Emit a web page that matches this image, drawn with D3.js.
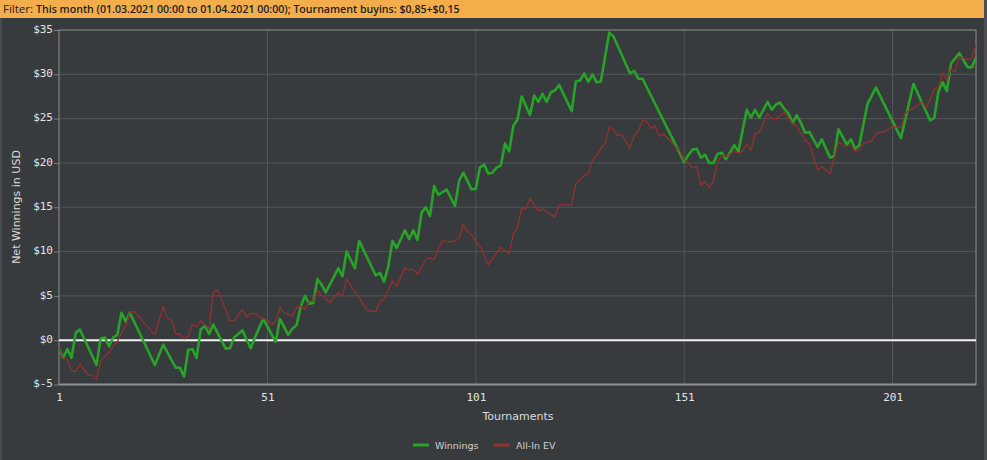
<!DOCTYPE html>
<html lang="en">
<head>
    <meta charset="UTF-8">
    <title>Net Winnings</title>

    <script src="https://d3js.org/d3.v7.min.js"></script>

    <style>
        body {
            margin: 0;
            background: #383b3e;
        }

        svg {
            display: block;
        }
    </style>

    <script>

        // tournaments where the line changes direction
        const winTournaments = [1, 2, 3, 4, 5, 6, 10, 11, 12, 13, 14, 15, 16, 17, 18, 24, 26, 29, 30, 31,
            32, 33, 34, 35, 36, 37, 38, 41, 42, 43, 45, 47, 48, 50, 53, 54, 56, 57, 58, 59,
            60, 61, 62, 63, 64, 65, 68, 69, 70, 72, 73, 77, 78, 79, 80, 81, 82, 84, 85, 86,
            87, 88, 89, 90, 91, 92, 94, 96, 97, 98, 100, 101, 102, 103, 104, 105, 106, 107, 108, 109,
            110, 111, 112, 114, 115, 116, 117, 118, 119, 120, 121, 124, 125, 126, 127, 128, 129, 130, 131, 133,
            134, 138, 139, 140, 141, 151, 152, 153, 154, 155, 156, 157, 158, 159, 160, 161, 163, 164, 166, 167,
            168, 169, 171, 172, 173, 174, 175, 176, 177, 178, 179, 180, 181, 183, 184, 186, 187, 188, 190, 191,
            192, 193, 195, 197, 203, 206, 210, 211, 212, 213, 214, 215, 217, 219, 220, 221];
        const winnings = [-1.0, -2.0, -1.0, -2.0, 0.8, 1.2, -2.8, 0.2, 0.3, -0.7, 0.3, 0.6, 3.1, 2.1, 3.1, -2.8, -0.5, -3.1, -3.1, -4.1,
            -1.1, -1.0, -2.0, 1.2, 1.6, 0.7, 1.75, -0.95, -0.9, 0.3, 1.1, -0.9, 0.3, 2.4, -0.2, 2.4, 0.6, 1.3, 1.7, 3.8,
            5.0, 4.1, 4.2, 6.9, 6.25, 5.4, 8.1, 7.2, 10.0, 8.1, 11.2, 7.3, 7.6, 6.6, 8.3, 11.2, 10.4, 12.4, 11.4, 12.4,
            11.3, 14.4, 15.0, 14.0, 17.4, 16.4, 17.0, 15.15, 18.0, 18.9, 17.0, 17.1, 19.5, 19.8, 18.8, 18.9, 19.5, 19.7, 22.2, 21.3,
            24.2, 24.9, 27.5, 25.4, 27.6, 26.9, 27.8, 26.9, 27.95, 28.2, 28.8, 25.85, 29.2, 29.3, 30.1, 29.15, 30.0, 29.1, 29.2, 34.7,
            34.3, 30.1, 30.4, 29.5, 29.5, 20.1, 20.9, 21.5, 21.6, 20.6, 20.9, 20.0, 20.0, 21.0, 21.15, 20.4, 22.0, 21.3, 26.0, 25.1,
            26.0, 25.1, 26.9, 26.0, 26.6, 26.8, 26.1, 25.6, 24.5, 25.4, 24.5, 23.4, 23.5, 21.8, 22.65, 20.6, 20.8, 23.8, 22.1, 22.65,
            21.6, 22.0, 26.7, 28.5, 22.8, 28.9, 24.8, 25.1, 28.1, 29.1, 28.1, 31.2, 32.4, 30.8, 30.8, 31.9];

        const evTournaments = [1, 2, 3, 4, 5, 6, 8, 9, 10, 11, 12, 13, 14, 15, 16, 17, 18, 19, 24, 26,
            27, 28, 29, 30, 31, 32, 33, 34, 35, 37, 38, 39, 40, 42, 43, 45, 46, 47, 48, 49,
            50, 51, 52, 53, 54, 55, 56, 57, 58, 59, 60, 61, 62, 63, 64, 66, 68, 69, 70, 75,
            76, 77, 78, 79, 81, 82, 84, 85, 86, 87, 89, 90, 91, 93, 94, 96, 97, 98, 99, 100,
            101, 102, 104, 107, 108, 109, 110, 111, 112, 113, 114, 116, 117, 120, 121, 122, 124, 125, 126, 127,
            128, 129, 130, 131, 132, 133, 134, 135, 136, 138, 139, 140, 141, 142, 143, 144, 145, 146, 150, 151,
            152, 153, 154, 155, 156, 157, 158, 159, 160, 161, 162, 163, 164, 165, 166, 167, 168, 169, 171, 172,
            173, 175, 177, 178, 180, 181, 183, 184, 186, 188, 189, 190, 191, 192, 193, 194, 195, 196, 197, 198,
            199, 200, 201, 203, 204, 206, 207, 208, 209, 210, 211, 212, 213, 214, 215, 216, 217, 218, 219, 220,
            221];
        const allInEV = [-1.0, -2.0, -2.2, -3.5, -3.55, -2.7, -3.9, -4.0, -4.45, -2.3, -1.8, -1.4, -0.65, -0.15, 0.8, 1.6, 3.1, 3.25, 0.6, 3.8,
            2.5, 2.35, 0.7, 0.7, 0.15, 0.45, 1.8, 1.5, 2.2, 1.3, 5.4, 5.7, 4.6, 2.2, 2.2, 3.5, 2.6, 3.0, 3.0, 2.7,
            2.4, 2.3, 1.75, 2.1, 3.7, 3.06, 3.0, 2.7, 3.7, 3.8, 3.5, 4.37, 4.37, 5.6, 5.1, 4.26, 5.4, 5.0, 6.9, 3.4,
            3.25, 3.25, 4.37, 4.6, 6.7, 6.1, 8.2, 7.9, 8.0, 7.4, 9.1, 9.25, 9.1, 11.3, 11.1, 11.2, 11.5, 13.1, 12.25, 11.9,
            11.1, 10.6, 8.5, 10.5, 10.1, 9.7, 12.0, 12.8, 14.8, 14.8, 16.0, 14.6, 14.8, 13.9, 15.26, 15.3, 15.26, 17.7, 18.1, 18.6,
            18.8, 20.3, 20.9, 21.6, 22.2, 24.0, 23.8, 23.1, 23.2, 21.7, 23.1, 23.6, 24.8, 24.7, 23.9, 24.2, 23.0, 23.3, 21.3, 20.3,
            20.0, 19.4, 19.6, 17.5, 17.9, 17.2, 18.0, 20.1, 20.9, 20.7, 21.0, 21.3, 21.1, 21.3, 22.2, 21.4, 23.25, 23.5, 25.6, 25.0,
            25.0, 25.7, 24.5, 24.1, 22.6, 22.2, 19.2, 19.6, 18.8, 22.4, 22.0, 21.9, 22.0, 21.3, 21.5, 22.2, 22.3, 22.5, 23.3, 23.5,
            23.5, 23.8, 24.1, 24.0, 25.6, 26.2, 26.5, 26.9, 26.2, 27.1, 28.4, 28.5, 30.2, 29.3, 30.6, 30.3, 32.0, 31.8, 31.7, 31.8,
            33.3];

        const xTicks = [1, 51, 101, 151, 201];
        const yTicks = [-5, 0, 5, 10, 15, 20, 25, 30, 35];

        const seriesNames = ["Winnings", "All-In EV"];
        const seriesColors = ["#27a327", "#933030"];

        document.addEventListener("DOMContentLoaded", () => makeGraph());

        function makeGraph() {
            const width = 987;
            const height = 460;

            const plot = {left: 59, right: 976, top: 30, bottom: 384.5};

            let svg = d3.select("svg")
                .attr("width", width)
                .attr("height", height);

            // filter bar
            svg.append("rect")
                .attr("x", 0).attr("y", 0)
                .attr("width", 984).attr("height", 18)
                .attr("fill", "#f3ad4b");

            let filter = svg.append("text")
                .attr("x", 3).attr("y", 13)
                .style("font-family", "'Open Sans', sans-serif")
                .attr("fill", "#1e1e1e");
            filter.append("tspan").style("font-size", "11.5px").text("Filter: ");
            filter.append("tspan").style("font-weight", 600).style("font-size", "10.6px")
                .text("This month (01.03.2021 00:00 to 01.04.2021 00:00); Tournament buyins: $0,85+$0,15");

            // thin lighter frame on the sides
            svg.append("rect").attr("x", 0).attr("y", 18).attr("width", 1.5).attr("height", height - 18).attr("fill", "#4b4e52");
            svg.append("rect").attr("x", 984).attr("y", 0).attr("width", 3).attr("height", height).attr("fill", "#4b4e52");

            let xScale = d3.scaleLinear().domain([1, 221]).range([plot.left, plot.right]);
            let yScale = d3.scaleLinear().domain([-5, 35]).range([plot.bottom, plot.top]);

            // grid
            svg.append("g").selectAll("line")
                .data(yTicks.filter(d => d > -5 && d < 35))
                .enter().append("line")
                .attr("x1", plot.left).attr("x2", plot.right)
                .attr("y1", d => yScale(d)).attr("y2", d => yScale(d))
                .attr("stroke", "#53575a").attr("stroke-width", 1);

            svg.append("g").selectAll("line")
                .data(xTicks.filter(d => d > 1))
                .enter().append("line")
                .attr("x1", d => xScale(d)).attr("x2", d => xScale(d))
                .attr("y1", plot.top).attr("y2", plot.bottom)
                .attr("stroke", "#53575a").attr("stroke-width", 1);

            // frame
            svg.append("rect")
                .attr("x", plot.left).attr("y", plot.top)
                .attr("width", plot.right - plot.left).attr("height", plot.bottom - plot.top)
                .attr("fill", "none").attr("stroke", "#8d9093").attr("stroke-width", 1);
            svg.append("line")
                .attr("x1", plot.left).attr("x2", plot.right)
                .attr("y1", plot.bottom).attr("y2", plot.bottom)
                .attr("stroke", "#8d9093").attr("stroke-width", 2);

            // zero line
            svg.append("line")
                .attr("x1", plot.left).attr("x2", plot.right)
                .attr("y1", yScale(0)).attr("y2", yScale(0))
                .attr("stroke", "#f2f2f2").attr("stroke-width", 2);

            // axes
            let yAxis = svg.append("g")
                .attr("transform", `translate(${plot.left},0)`)
                .call(d3.axisLeft(yScale).tickValues(yTicks).tickFormat(d => "$" + d).tickSize(5).tickPadding(1));
            let xAxis = svg.append("g")
                .attr("transform", `translate(0,${plot.bottom})`)
                .call(d3.axisBottom(xScale).tickValues(xTicks).tickSize(0).tickPadding(9));

            [yAxis, xAxis].forEach(axis => {
                axis.select(".domain").remove();
                axis.selectAll(".tick line").attr("stroke", "#7d8083");
                axis.selectAll("text")
                    .attr("fill", "#e4e4e4")
                    .style("font-family", "'DejaVu Sans Mono', monospace")
                    .style("font-size", "11px");
            });
            yAxis.selectAll("text").attr("dy", "0.2em");

            // lines
            const line = d3.line()
                .x(d => xScale(d[0]))
                .y(d => yScale(d[1]));

            svg.append("path")
                .datum(d3.zip(winTournaments, winnings))
                .attr("d", line)
                .attr("fill", "none")
                .attr("stroke", seriesColors[0])
                .attr("stroke-width", 2.6)
                .attr("stroke-linejoin", "round");

            svg.append("path")
                .datum(d3.zip(evTournaments, allInEV))
                .attr("d", line)
                .attr("fill", "none")
                .attr("stroke", seriesColors[1])
                .attr("stroke-width", 1.3)
                .attr("stroke-linejoin", "round");

            // axis titles
            svg.append("text")
                .attr("x", 518).attr("y", 420)
                .attr("text-anchor", "middle")
                .style("font-family", "'DejaVu Sans', sans-serif")
                .style("font-size", "11px")
                .attr("fill", "#dcdcdc")
                .text("Tournaments");

            svg.append("text")
                .attr("transform", "translate(20,207) rotate(-90)")
                .attr("text-anchor", "middle")
                .style("font-family", "'DejaVu Sans', sans-serif")
                .style("font-size", "11px")
                .attr("fill", "#dcdcdc")
                .text("Net Winnings in USD");

            // legend
            let legend = svg.append("g").selectAll("g")
                .data(seriesNames)
                .enter().append("g")
                .attr("transform", (d, i) => `translate(${413 + i * 81},445)`);

            legend.append("line")
                .attr("x1", 0).attr("x2", 16)
                .attr("stroke", (d, i) => seriesColors[i])
                .attr("stroke-width", 3);

            legend.append("text")
                .attr("x", 22).attr("y", 3.5)
                .style("font-family", "'DejaVu Sans', sans-serif")
                .style("font-size", "9.5px")
                .attr("fill", "#d0d0d0")
                .text(d => d);
        }

    </script>

</head>
<body>

    <svg></svg>

</body>
</html>
